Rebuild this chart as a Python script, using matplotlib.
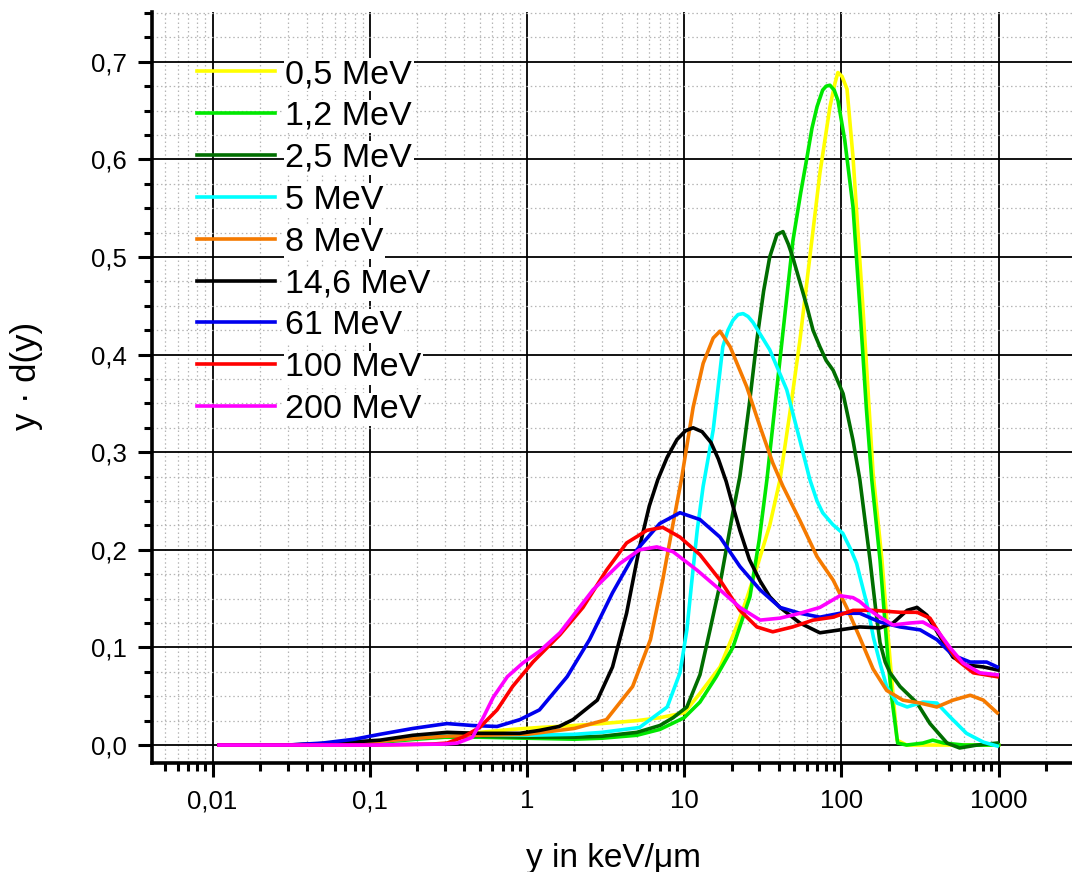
import matplotlib
matplotlib.use("Agg")
import matplotlib.pyplot as plt
from matplotlib.ticker import MultipleLocator, LogLocator, FixedLocator, FixedFormatter

plt.rcParams['font.family'] = ['Liberation Sans', 'DejaVu Sans']

labels = ["0,5 MeV", "1,2 MeV", "2,5 MeV", "5 MeV", "8 MeV",
          "14,6 MeV", "61 MeV", "100 MeV", "200 MeV"]
colors = ["#ffff00", "#00e800", "#006e00", "#00ffff", "#f57a00",
          "#000000", "#0000ee", "#ff0000", "#ff00ff"]

# 0,5 MeV
x_05 = [0.011, 0.03, 0.06, 0.1, 0.2, 0.3, 0.5, 0.8, 1.2, 2, 3, 5, 7, 10, 12.6, 16.9, 19,
        22, 25, 29.5, 35, 40.7, 47, 54.5, 63, 73, 84.6, 91, 95, 101, 108.6, 118.6, 137,
        159, 181, 204, 226, 260, 400, 1000]
y_05 = [0, 0, 0.001, 0.003, 0.008, 0.011, 0.013, 0.016, 0.018, 0.02, 0.022, 0.025, 0.028,
        0.033, 0.053, 0.08, 0.1, 0.125, 0.15, 0.186, 0.225, 0.272, 0.34, 0.415, 0.5, 0.586,
        0.654, 0.678, 0.689, 0.685, 0.672, 0.602, 0.449, 0.279, 0.19, 0.087, 0.005, 0, 0, 0]

# 1,2 MeV
x_12 = [0.011, 0.03, 0.06, 0.1, 0.2, 0.3, 0.5, 1, 2, 3, 5, 7, 10, 12.6, 16, 20.4, 26.2,
        30, 33.6, 41, 49.2, 55, 60.4, 65, 70, 76, 80, 84.5, 90, 95.2, 105, 118.6, 131, 144,
        156, 176, 198, 210, 228, 260, 330, 381, 450, 600, 1000]
y_12 = [0, 0, 0.001, 0.002, 0.006, 0.008, 0.008, 0.007, 0.006, 0.007, 0.01, 0.016, 0.028,
        0.044, 0.07, 0.1, 0.152, 0.21, 0.272, 0.4, 0.517, 0.565, 0.602, 0.632, 0.654, 0.671,
        0.675, 0.676, 0.671, 0.66, 0.62, 0.551, 0.449, 0.346, 0.272, 0.19, 0.087, 0.046,
        0.002, 0, 0.002, 0.005, 0.002, 0, 0]

# 2,5 MeV
x_25 = [0.011, 0.03, 0.06, 0.1, 0.2, 0.3, 0.5, 1, 2, 3, 5, 7, 8.5, 10.4, 12.6, 14.6, 16.9,
        20.4, 22.6, 26, 29, 32, 35, 38.9, 42.5, 46, 49, 55, 60.4, 66, 73, 80, 88.6, 102.5,
        118.6, 131, 152, 165, 176, 190, 204, 236, 303, 366, 470, 565, 730, 980]
y_25 = [0, 0, 0.001, 0.003, 0.007, 0.009, 0.009, 0.008, 0.008, 0.009, 0.013, 0.02, 0.028,
        0.039, 0.072, 0.118, 0.165, 0.238, 0.275, 0.35, 0.415, 0.465, 0.5, 0.523, 0.526,
        0.513, 0.5, 0.472, 0.449, 0.425, 0.408, 0.394, 0.384, 0.36, 0.312, 0.272, 0.19,
        0.14, 0.105, 0.085, 0.074, 0.06, 0.043, 0.022, 0.002, -0.003, 0, 0.002]

# 5 MeV
x_5 = [0.011, 0.03, 0.06, 0.1, 0.2, 0.3, 0.5, 1, 2, 3, 5.2, 7.8, 9.4, 10.4, 11.2, 12.1,
       13.2, 15.3, 17.6, 19, 20.4, 22, 23.7, 25.5, 27.4, 35, 44.9, 54.5, 63, 70, 76, 88,
       102, 115, 125, 145, 160, 176, 194, 226, 262, 330, 405, 490, 625, 800, 980]
y_5 = [0, 0, 0.001, 0.003, 0.007, 0.01, 0.01, 0.01, 0.011, 0.013, 0.018, 0.039, 0.074,
       0.118, 0.169, 0.22, 0.265, 0.323, 0.408, 0.425, 0.435, 0.441, 0.442, 0.439, 0.433,
       0.405, 0.364, 0.312, 0.272, 0.25, 0.238, 0.226, 0.217, 0.2, 0.186, 0.145, 0.11,
       0.084, 0.06, 0.043, 0.039, 0.044, 0.043, 0.029, 0.012, 0.003, -0.001]

# 8 MeV
x_8 = [0.011, 0.03, 0.06, 0.1, 0.2, 0.3, 0.5, 1, 2, 3.2, 4.7, 6.1, 7.3, 8.5, 9.6, 11.4,
       13.2, 15.3, 16.9, 19.6, 25, 30.4, 36.6, 42.5, 54.5, 70, 88.6, 108, 131, 159, 194,
       246, 317, 405, 513, 660, 800, 980]
y_8 = [0, 0, 0.001, 0.003, 0.007, 0.009, 0.01, 0.011, 0.017, 0.026, 0.06, 0.108, 0.169,
       0.227, 0.272, 0.346, 0.391, 0.417, 0.424, 0.408, 0.367, 0.326, 0.289, 0.265, 0.23,
       0.193, 0.169, 0.141, 0.11, 0.078, 0.056, 0.046, 0.043, 0.039, 0.046, 0.051, 0.046,
       0.033]

# 14,6 MeV
x_146 = [0.011, 0.03, 0.06, 0.116, 0.188, 0.31, 0.5, 0.9, 1.2, 1.6, 1.96, 2.8, 3.5, 4.3,
         5.2, 6.0, 6.8, 7.8, 9.0, 10.2, 11.4, 13, 14.8, 16.5, 18.5, 20.4, 22.6, 26, 30.4,
         35, 40.7, 54.5, 73, 98, 131, 176, 213, 262, 303, 350, 425, 513, 625, 800, 980]
y_146 = [0, 0, 0.002, 0.005, 0.01, 0.013, 0.012, 0.012, 0.015, 0.019, 0.026, 0.046, 0.08,
         0.135, 0.203, 0.245, 0.272, 0.295, 0.313, 0.322, 0.325, 0.321, 0.31, 0.293, 0.27,
         0.245, 0.22, 0.19, 0.168, 0.152, 0.141, 0.125, 0.115, 0.118, 0.121, 0.12, 0.125,
         0.138, 0.141, 0.133, 0.111, 0.09, 0.082, 0.08, 0.077]

# 61 MeV
x_61 = [0.011, 0.03, 0.05, 0.08, 0.116, 0.188, 0.31, 0.45, 0.645, 0.9, 1.2, 1.8, 2.5, 3.5,
        5, 7, 9.4, 12.6, 16.9, 22.6, 30.4, 40.7, 54.5, 73, 98, 131, 176, 236, 317, 405,
        513, 660, 840, 980]
y_61 = [0, 0, 0.002, 0.006, 0.011, 0.017, 0.022, 0.02, 0.019, 0.026, 0.036, 0.07, 0.108,
        0.156, 0.2, 0.227, 0.238, 0.231, 0.213, 0.183, 0.159, 0.141, 0.135, 0.131, 0.135,
        0.135, 0.126, 0.121, 0.118, 0.108, 0.092, 0.085, 0.085, 0.08]

# 100 MeV
x_100 = [0.011, 0.1, 0.25, 0.31, 0.39, 0.5, 0.645, 0.81, 1.09, 1.62, 2.27, 3.2, 4.3, 5.8,
         7.3, 9.4, 12.6, 16.9, 22.6, 29, 36.6, 49, 66, 88.6, 118.6, 159, 236, 303, 366,
         445, 545, 690, 980]
y_100 = [0, 0, 0.001, 0.002, 0.008, 0.018, 0.036, 0.06, 0.085, 0.113, 0.141, 0.179, 0.207,
         0.22, 0.223, 0.213, 0.195, 0.169, 0.138, 0.121, 0.116, 0.121, 0.128, 0.131, 0.138,
         0.138, 0.136, 0.136, 0.13, 0.108, 0.087, 0.074, 0.07]

# 200 MeV
x_200 = [0.011, 0.1, 0.3, 0.36, 0.45, 0.53, 0.61, 0.75, 0.94, 1.2, 1.62, 2.63, 3.9, 5.2,
         6.7, 8.5, 12.1, 16.9, 22.6, 30.4, 40.7, 54.5, 73, 98, 118.6, 131, 152, 176, 213,
         272, 330, 405, 490, 594, 760, 980]
y_200 = [0, 0, 0.001, 0.002, 0.008, 0.029, 0.049, 0.07, 0.084, 0.096, 0.115, 0.159, 0.186,
         0.2, 0.203, 0.198, 0.179, 0.159, 0.141, 0.128, 0.13, 0.135, 0.141, 0.153, 0.151,
         0.147, 0.138, 0.131, 0.123, 0.125, 0.126, 0.118, 0.1, 0.084, 0.074, 0.072]

xs = [x_05, x_12, x_25, x_5, x_8, x_146, x_61, x_100, x_200]
ys = [y_05, y_12, y_25, y_5, y_8, y_146, y_61, y_100, y_200]

y_ticks = [0.0, 0.1, 0.2, 0.3, 0.4, 0.5, 0.6, 0.7]
y_ticklabels = ["0,0", "0,1", "0,2", "0,3", "0,4", "0,5", "0,6", "0,7"]
x_ticks = [0.01, 0.1, 1, 10, 100, 1000]
x_ticklabels = ["0,01", "0,1", "1", "10", "100", "1000"]

fig = plt.figure(figsize=(10.72, 8.72), dpi=100)
ax = fig.add_axes([152 / 1072, 109 / 872, 920 / 1072, 751 / 872])

for x, y, c, lab in zip(xs, ys, colors, labels):
    ax.plot(x, y, color=c, lw=2.6, label=lab, solid_joinstyle='round')

ax.set_xscale('log')
ax.set_xlim(0.004116, 2931)
ax.set_ylim(-0.0184, 0.751)

ax.xaxis.set_major_locator(FixedLocator(x_ticks))
ax.xaxis.set_major_formatter(FixedFormatter(x_ticklabels))
ax.xaxis.set_minor_locator(LogLocator(base=10, subs=range(2, 10), numticks=20))
ax.yaxis.set_major_locator(FixedLocator(y_ticks))
ax.yaxis.set_major_formatter(FixedFormatter(y_ticklabels))
ax.yaxis.set_minor_locator(MultipleLocator(0.025))

ax.set_axisbelow(True)
ax.grid(which='major', color='black', lw=1.3, ls='-')
ax.grid(which='minor', color='#b5b5b5', lw=0.9, ls=(0, (1.2, 2.2)))

for s in ['top', 'right']:
    ax.spines[s].set_visible(False)
for s in ['left', 'bottom']:
    ax.spines[s].set_linewidth(2.6)

ax.tick_params(which='major', direction='out', length=10, width=2.2, labelsize=18.5, pad=8)
ax.tick_params(which='minor', direction='out', length=6, width=2.2)
ax.tick_params(axis='x', which='major', pad=9)

ax.set_xlabel("y in keV/\u03bcm", fontsize=24)
ax.set_ylabel("y \u00b7 d(y)", fontsize=25)
ax.xaxis.set_label_coords(0.502, -0.106)
ax.yaxis.set_label_coords(-0.119, 0.515)

leg = ax.legend(loc='upper left', bbox_to_anchor=(197 / 1072, (872 - 59) / 872),
                bbox_transform=fig.transFigure, frameon=False, fontsize=24.5,
                handlelength=2.3, handletextpad=0.3, labelspacing=0.32,
                borderpad=0, borderaxespad=0)
for t in leg.get_texts():
    t.set_bbox(dict(facecolor='white', edgecolor='none', pad=1))

fig.savefig("out.png", dpi=100)
